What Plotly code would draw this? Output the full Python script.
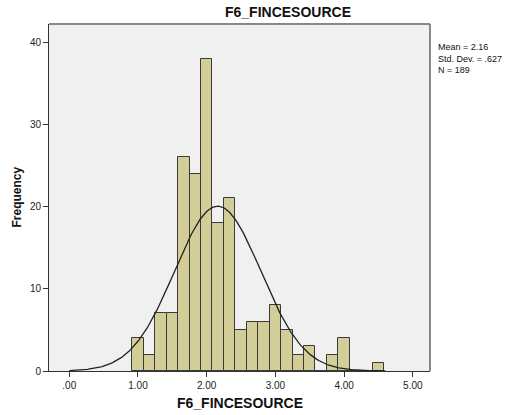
import numpy as np
import plotly.graph_objects as go

# Histogram bins (centers, width 1/6) and frequencies
bin_centers = [1.0 + i / 6 for i in range(22)]
counts = [4, 2, 7, 7, 26, 24, 38, 18, 21, 5, 6, 6, 8, 5, 2, 3, 0, 2, 4, 0, 0, 1]
mean_val = 2.16
std_val = 0.627
n_val = 189
bin_width = 1 / 6

x_ticks = [0, 1, 2, 3, 4, 5]
x_ticklabels = [".00", "1.00", "2.00", "3.00", "4.00", "5.00"]
y_ticks = [0, 10, 20, 30, 40]

xc = np.linspace(0, 4.6, 300)
yc = n_val * bin_width / (std_val * np.sqrt(2 * np.pi)) * np.exp(-0.5 * ((xc - mean_val) / std_val) ** 2)

fig = go.Figure()
fig.add_trace(go.Bar(
    x=bin_centers, y=counts, width=bin_width,
    marker=dict(color="#D3CE97", line=dict(color="#3a3a3a", width=1)),
    hoverinfo="skip",
))
fig.add_trace(go.Scatter(
    x=xc, y=yc, mode="lines", line=dict(color="#222222", width=1.3), hoverinfo="skip",
))

font_family = "Liberation Sans, Arial, sans-serif"
fig.update_layout(
    width=508, height=415,
    margin=dict(l=49, r=78, t=24, b=44),
    paper_bgcolor="white", plot_bgcolor="#F0F0F0",
    showlegend=False, bargap=0,
    font=dict(family=font_family, color="#222222", size=10),
    xaxis=dict(
        range=[-0.295, 5.25], tickvals=x_ticks, ticktext=x_ticklabels,
        ticks="outside", ticklen=5, tickcolor="#333333", showgrid=False, zeroline=False,
        showline=True, linecolor="#333333", linewidth=1, mirror=False,
        tickfont=dict(size=10, color="#222222"),
    ),
    yaxis=dict(
        range=[0, 42.2], tickvals=y_ticks,
        ticks="outside", ticklen=5, tickcolor="#333333", showgrid=False, zeroline=False,
        showline=True, linecolor="#333333", linewidth=1,
        tickfont=dict(size=10, color="#222222"),
    ),
    shapes=[
        dict(type="line", xref="paper", yref="paper", x0=0, x1=1, y0=1, y1=1,
             line=dict(color="#888888", width=2)),
        dict(type="line", xref="paper", yref="paper", x0=1, x1=1, y0=0, y1=1,
             line=dict(color="#888888", width=2)),
    ],
    annotations=[
        dict(text="<b>F6_FINCESOURCE</b>", xref="paper", yref="paper", x=0.626, y=1.0,
             yshift=12, xanchor="center", yanchor="middle", showarrow=False,
             font=dict(size=14, color="#111111")),
        dict(text="<b>F6_FINCESOURCE</b>", xref="paper", yref="paper", x=0.5, y=0,
             yshift=-32, xanchor="center", yanchor="middle", showarrow=False,
             font=dict(size=14, color="#111111")),
        dict(text="<b>Frequency</b>", xref="paper", yref="paper", x=0, y=0.5,
             xshift=-33, textangle=-90, xanchor="center", yanchor="middle", showarrow=False,
             font=dict(size=12, color="#111111")),
        dict(text="Mean = 2.16<br>Std. Dev. = .627<br>N = 189", xref="paper", yref="paper",
             x=1, y=1, xshift=6, yshift=-16, xanchor="left", yanchor="top", align="left",
             showarrow=False, font=dict(size=9, color="#111111")),
    ],
)

fig.write_html("out.html")
